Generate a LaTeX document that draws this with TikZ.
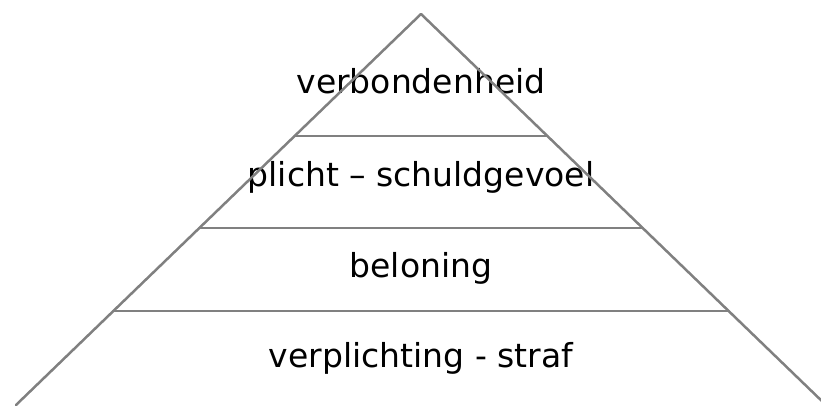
\documentclass[tikz,border=0pt]{standalone}
\usepackage{fontspec}
\setmainfont{DejaVu Sans}
\usetikzlibrary{calc,positioning}
\definecolor{lijn}{RGB}{128,128,128}
\tikzset{every picture/.style={line width=2.5pt}}
\tikzstyle{laag}=[font=\fontsize{33}{40}\selectfont,inner sep=0pt]

\begin{document}
\begin{tikzpicture}[x=1pt,y=-1pt]
\useasboundingbox (0,0) rectangle (821,405);
\clip (0,0) rectangle (821,405);
\coordinate (T) at (421,14);
\coordinate (L) at (16,405);
\coordinate (R) at (826,405);
\coordinate (L1) at ($(T)!0.312!(L)$);
\coordinate (R1) at ($(T)!0.312!(R)$);
\coordinate (L2) at ($(T)!0.547!(L)$);
\coordinate (R2) at ($(T)!0.547!(R)$);
\coordinate (L3) at ($(T)!0.760!(L)$);
\coordinate (R3) at ($(T)!0.760!(R)$);
\node[laag] (A) at (421,81) {verbondenheid};
\node[laag] (B) at (421,177) {plicht – schuldgevoel};
\node[laag] (C) at (421,268) {beloning};
\node[laag] (D) at (421,358) {verplichting - straf};
\path[draw=lijn,line cap=round]
(L) edge (T)
(T) edge (R)
(L1) edge (R1)
(L2) edge (R2)
(L3) edge (R3);
\end{tikzpicture}
\end{document}
